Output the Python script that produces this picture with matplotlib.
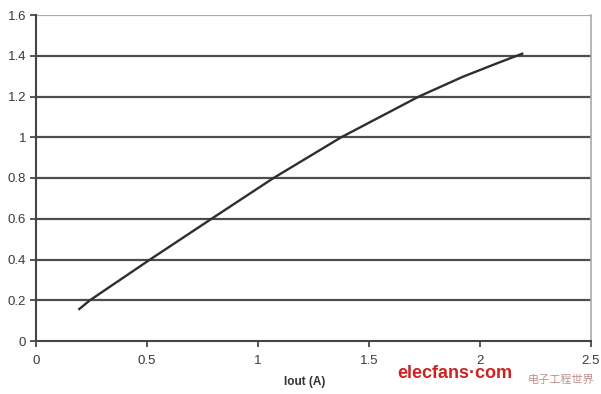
import matplotlib
matplotlib.use("Agg")
import matplotlib.pyplot as plt

iout = [0.195, 0.243, 0.514, 0.791, 1.07, 1.375, 1.55, 1.725, 1.923, 2.077, 2.19]
vals = [0.157, 0.20, 0.40, 0.60, 0.80, 1.00, 1.10, 1.20, 1.297, 1.363, 1.41]
xticks = [0, 0.5, 1, 1.5, 2, 2.5]
xticklabels = ["0", "0.5", "1", "1.5", "2", "2.5"]
yticks = [0, 0.2, 0.4, 0.6, 0.8, 1.0, 1.2, 1.4, 1.6]
yticklabels = ["0", "0.2", "0.4", "0.6", "0.8", "1", "1.2", "1.4", "1.6"]

plt.rcParams['font.family'] = ['Liberation Sans', 'Noto Sans CJK SC', 'DejaVu Sans']

fig = plt.figure(figsize=(6.01, 3.94), dpi=100)
ax = fig.add_axes([36/601, 1-341/394, 555/601, 326/394])
ax.set_xlim(0, 2.5)
ax.set_ylim(0, 1.6)

for y in yticks[1:]:
    ax.axhline(y, color="#4d4d4d" if y < 1.55 else "#aaaaaa", lw=1.6, zorder=1)

ax.plot(iout, vals, color="#2e2e2e", lw=1.7, zorder=3, solid_joinstyle="round")

ax.set_xticks(xticks)
ax.set_xticklabels(xticklabels)
ax.set_yticks(yticks)
ax.set_yticklabels(yticklabels)
ax.tick_params(axis="both", colors="#3a3a3a", labelsize=9.5, length=4, width=1.2)
ax.tick_params(axis="x", pad=6)
ax.tick_params(axis="y", pad=3)
ax.spines["top"].set_visible(False)
ax.spines["right"].set_color("#aaaaaa")
ax.spines["right"].set_linewidth(1.2)
ax.spines["left"].set_color("#444444")
ax.spines["left"].set_linewidth(1.5)
ax.spines["bottom"].set_color("#444444")
ax.spines["bottom"].set_linewidth(1.5)

ax.set_xlabel("Iout (A)", fontsize=8.5, fontweight="bold", color="#333333", va="center")
ax.xaxis.set_label_coords(0.485, (341 - 382) / 326)

fig.text(397/601, 1-374/394, "elecfans·com", color="#cc2222", fontsize=13,
         fontweight="bold", ha="left", va="center")
fig.text(528/601, 1-380/394, "电子工程世界", color="#b07070", fontsize=8,
         ha="left", va="center", alpha=0.8)

fig.savefig("out.png", dpi=100)
